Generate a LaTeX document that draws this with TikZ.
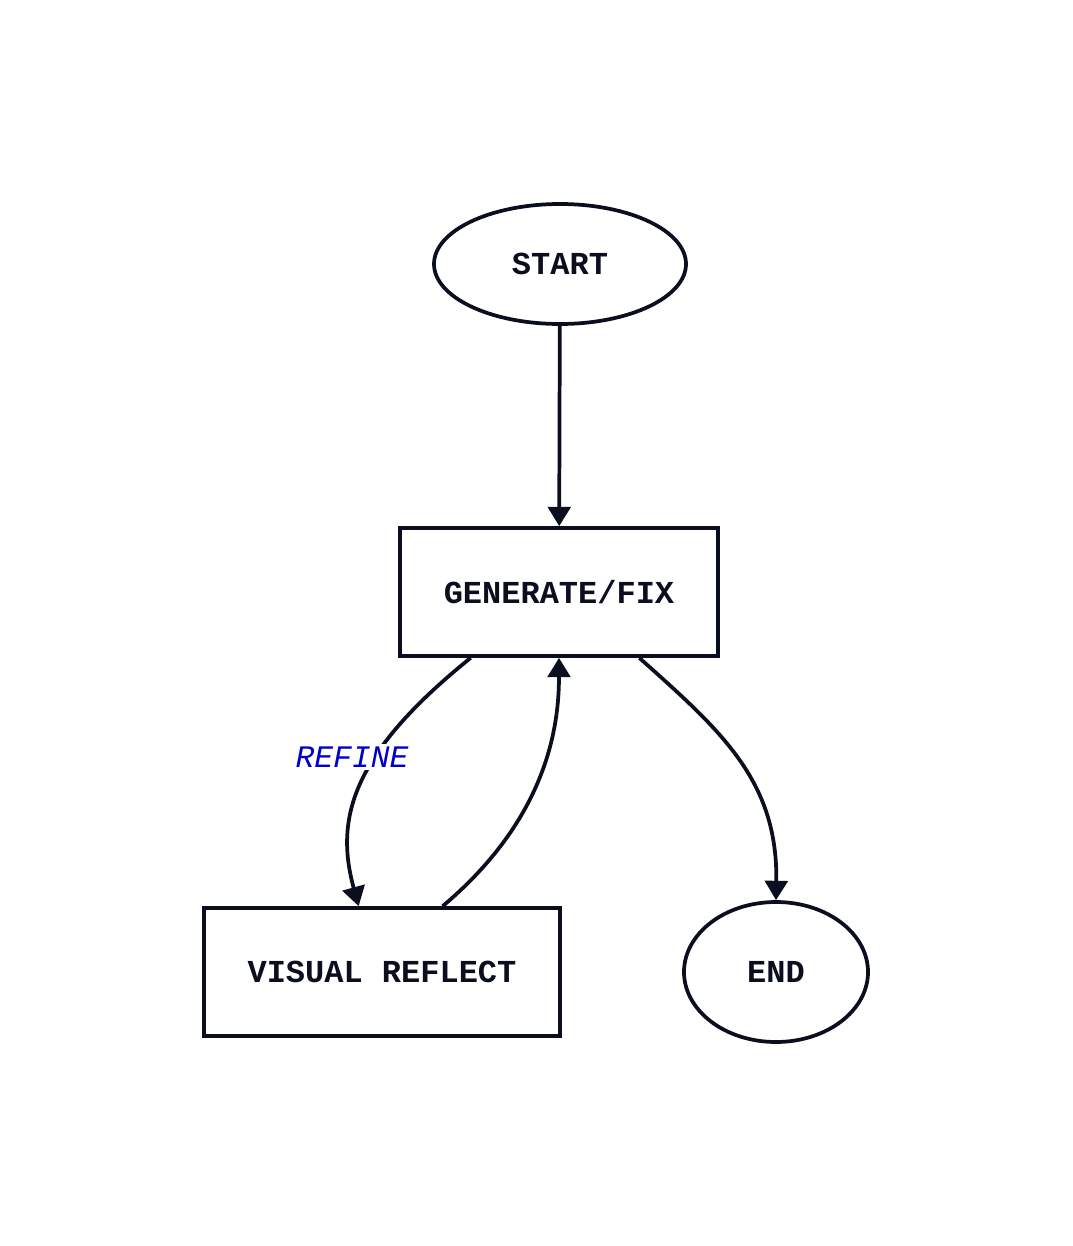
\documentclass[tikz,border=0pt]{standalone}
\usepackage{fontspec}
\newfontfamily\flowfont{Liberation Mono}
\usetikzlibrary{shapes.geometric,arrows.meta}
\definecolor{ink}{RGB}{10,14,30}
\definecolor{refblue}{RGB}{0,0,200}
\tikzset{
  base/.style={draw=ink, line width=2.8pt, inner sep=0pt, text=ink,
    font=\flowfont\bfseries\fontsize{24}{28}\selectfont},
  term/.style={base, ellipse},
  stepbox/.style={base, rectangle, minimum height=96pt},
  flow/.style={draw=ink, line width=2.8pt,
    -{Triangle[length=14.5pt,width=17pt]}},
  lbl/.style={fill=white, text=refblue, inner sep=2pt,
    font=\flowfont\itshape\fontsize{23.5}{28}\selectfont}
}
\begin{document}
\begin{tikzpicture}[x=0.75pt,y=-0.75pt]
    \useasboundingbox (0,0) rectangle (1072,1246);
    % nodes
    \node[term, minimum width=189pt, minimum height=90pt] (start) at (560,264) {START};
    \node[stepbox, minimum width=238.5pt] (gen) at (559,592) {GENERATE/FIX};
    \node[stepbox, minimum width=267pt] (vis) at (382,972) {VISUAL REFLECT};
    \node[term, minimum width=138pt, minimum height=105pt] (end) at (776,972) {END};
    % connectors
    \draw[flow] (start) -- (gen);
    \draw[flow] ([xshift=54.4pt]gen.south west) .. controls (350,755) and (335,820) .. ([xshift=117.4pt]vis.north west);
    \node[lbl] (refine) at (352,757) {REFINE};
    \draw[flow] ([xshift=180.4pt]vis.north west) .. controls (545,820) and (559,730) .. (gen.south);
    \draw[flow] ([xshift=-60.4pt]gen.south east) .. controls (720,730) and (778,780) .. (end.north);
\end{tikzpicture}
\end{document}
